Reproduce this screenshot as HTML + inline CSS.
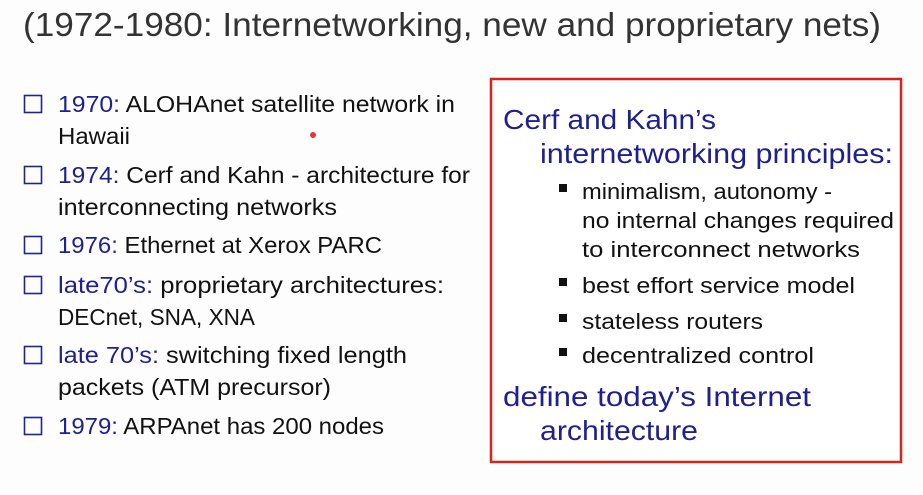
<!DOCTYPE html>
<html><head><meta charset="utf-8"><style>
html,body{margin:0;padding:0;background:#fff;}
svg{display:block;font-family:"Liberation Sans",sans-serif;}
.b{fill:#1f1f8f}.k{fill:#111}
</style></head><body>
<svg width="923" height="495" viewBox="0 0 923 495" xmlns="http://www.w3.org/2000/svg">
<rect width="923" height="495" fill="#fdfdfd"/>
<text x="23" y="36" font-size="33" fill="#333" textLength="858" lengthAdjust="spacingAndGlyphs">(1972-1980: Internetworking, new and proprietary nets)</text>

<g fill="none" stroke="#23238f" stroke-width="1.6">
<rect x="24.5" y="95.5" width="17" height="17"/>
<rect x="24.5" y="166.5" width="17" height="17"/>
<rect x="24.5" y="236.5" width="17" height="17"/>
<rect x="24.5" y="276.5" width="17" height="17"/>
<rect x="24.5" y="346.5" width="17" height="17"/>
<rect x="24.5" y="417.5" width="17" height="17"/>
</g>
<g font-size="23">
<text x="58" y="112" textLength="397" lengthAdjust="spacingAndGlyphs"><tspan class="b">1970:</tspan><tspan class="k"> ALOHAnet satellite network in</tspan></text>
<text x="58" y="144" class="k" textLength="72" lengthAdjust="spacingAndGlyphs">Hawaii</text>
<text x="58" y="183" textLength="412" lengthAdjust="spacingAndGlyphs"><tspan class="b">1974:</tspan><tspan class="k"> Cerf and Kahn - architecture for</tspan></text>
<text x="58" y="215" class="k" textLength="279" lengthAdjust="spacingAndGlyphs">interconnecting networks</text>
<text x="58" y="253" textLength="324" lengthAdjust="spacingAndGlyphs"><tspan class="b">1976:</tspan><tspan class="k"> Ethernet at Xerox PARC</tspan></text>
<text x="58" y="293" textLength="386" lengthAdjust="spacingAndGlyphs"><tspan class="b">late70’s:</tspan><tspan class="k"> proprietary architectures:</tspan></text>
<text x="58" y="325" class="k" textLength="197" lengthAdjust="spacingAndGlyphs">DECnet, SNA, XNA</text>
<text x="58" y="363" textLength="349" lengthAdjust="spacingAndGlyphs"><tspan class="b">late 70’s:</tspan><tspan class="k"> switching fixed length</tspan></text>
<text x="58" y="395" class="k" textLength="273" lengthAdjust="spacingAndGlyphs">packets (ATM precursor)</text>
<text x="58" y="434" textLength="326" lengthAdjust="spacingAndGlyphs"><tspan class="b">1979:</tspan><tspan class="k"> ARPAnet has 200 nodes</tspan></text>
</g>

<rect x="491" y="79" width="410" height="383" fill="#fff" stroke="#d8231b" stroke-width="2.5"/>
<g font-size="28" class="b">
<text x="503" y="129" textLength="213" lengthAdjust="spacingAndGlyphs">Cerf and Kahn’s</text>
<text x="540" y="163" textLength="353" lengthAdjust="spacingAndGlyphs">internetworking principles:</text>
<text x="503" y="406" textLength="308" lengthAdjust="spacingAndGlyphs">define today’s Internet</text>
<text x="540" y="440" textLength="158" lengthAdjust="spacingAndGlyphs">architecture</text>
</g>
<g fill="#111">
<rect x="559" y="184" width="8" height="8"/>
<rect x="559" y="278" width="8" height="8"/>
<rect x="559" y="314" width="8" height="8"/>
<rect x="559" y="348" width="8" height="8"/>
</g>
<g font-size="22" class="k">
<text x="582" y="199" textLength="250" lengthAdjust="spacingAndGlyphs">minimalism, autonomy -</text>
<text x="582" y="228" textLength="312" lengthAdjust="spacingAndGlyphs">no internal changes required</text>
<text x="582" y="257" textLength="278" lengthAdjust="spacingAndGlyphs">to interconnect networks</text>
<text x="582" y="293" textLength="273" lengthAdjust="spacingAndGlyphs">best effort service model</text>
<text x="582" y="329" textLength="181" lengthAdjust="spacingAndGlyphs">stateless routers</text>
<text x="582" y="363" textLength="232" lengthAdjust="spacingAndGlyphs">decentralized control</text>
</g>
<circle cx="313" cy="135" r="3" fill="#e33"/>
</svg>
</body></html>
